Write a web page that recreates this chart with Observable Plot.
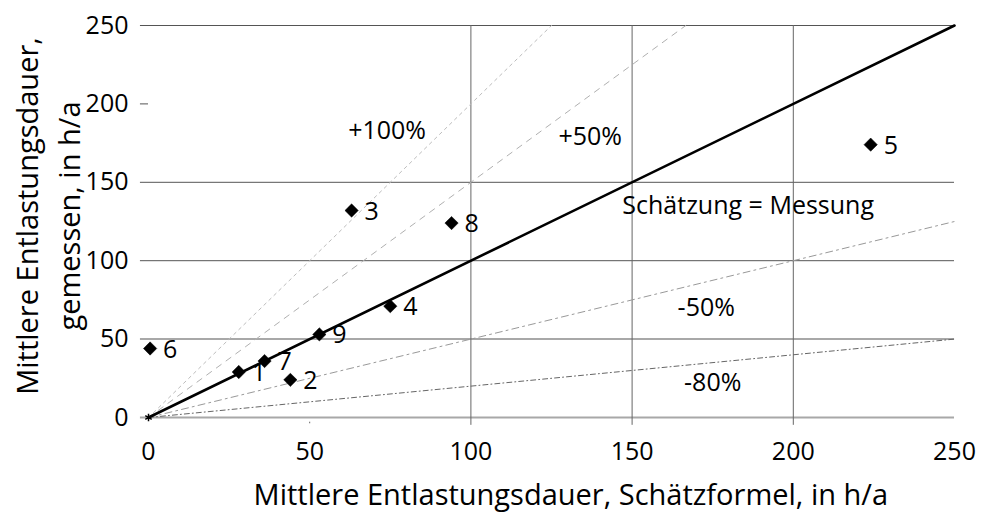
<!DOCTYPE html>
<html>
<head>
<meta charset="utf-8">
<script src="https://cdn.jsdelivr.net/npm/d3@7"></script>
<script src="https://cdn.jsdelivr.net/npm/@observablehq/plot@0.6"></script>
<style>
  body { margin: 0; background: #fff; }
  #chart { width: 982px; height: 515px; }
</style>
</head>
<body>
<div id="chart"></div>
<script>
// Data points: estimated (Schätzformel) vs measured (gemessen), h/a
const pointIds   = ["1", "2", "3", "4", "5", "6", "7", "8", "9"];
const estimated  = [28, 44, 63, 75, 224, 0.5, 36, 94, 53];
const measured   = [29, 24, 132, 71, 174, 44, 36, 124, 53];

// Reference lines: measured = factor * estimated
const refLabels  = ["+100%", "+50%", "Schätzung = Messung", "-50%", "-80%"];
const refFactors = [2, 1.5, 1, 0.5, 0.2];
const refLabelX  = [74, 137, 186, 173, 175];
const refLabelY  = [183, 179, 135, 70, 22];

const xTicks = [0, 50, 100, 150, 200, 250];
const yTicks = [0, 50, 100, 150, 200, 250];
const hGridDark  = [100, 150, 250];
const hGridLight = [0, 50];
const vGrid      = [100, 150, 200];

const xTitle = "Mittlere Entlastungsdauer, Schätzformel, in h/a";
const yTitle = "Mittlere Entlastungsdauer,\ngemessen, in h/a";

const points = pointIds.map((id, i) => ({id, x: estimated[i], y: measured[i]}));

function refLine(f) {
  const xEnd = Math.min(250, 250 / f);
  return [{x: 0, y: 0}, {x: xEnd, y: xEnd * f}];
}

const styles = {
  "2":   {stroke: "#bdbdbd", strokeWidth: 1, strokeDasharray: "3,4"},
  "1.5": {stroke: "#b0b0b0", strokeWidth: 1, strokeDasharray: "6,6"},
  "0.5": {stroke: "#999999", strokeWidth: 1, strokeDasharray: "7,4,2,4"},
  "0.2": {stroke: "#666666", strokeWidth: 1, strokeDasharray: "5,3,1,3"}
};

const font = "'Open Sans', 'DejaVu Sans', sans-serif";

const marks = [
  Plot.ruleY(hGridLight, {x1: -2.5, x2: 250, stroke: "#a8a8a8", strokeWidth: 2}),
  Plot.ruleY(hGridDark, {x1: -2.5, x2: 250, stroke: "#555", strokeWidth: 1}),
  Plot.ruleY([200], {x1: -2.5, x2: 0, stroke: "#555", strokeWidth: 1}),
  Plot.ruleX(vGrid, {y1: -5, y2: 250, stroke: "#666", strokeWidth: 1}),
  Plot.ruleX([50], {y1: -4, y2: -3, stroke: "#666", strokeWidth: 1}),
  ...refFactors.filter(f => f !== 1).map(f =>
    Plot.line(refLine(f), {x: "x", y: "y", ...styles[String(f)]})
  ),
  Plot.line(refLine(1), {x: "x", y: "y", stroke: "#000", strokeWidth: 2.6}),
  Plot.dot([{x: 0, y: 0}], {x: "x", y: "y", symbol: "asterisk", r: 3.5, stroke: "#000", strokeWidth: 1.5}),
  Plot.dot(points, {x: "x", y: "y", symbol: "diamond2", r: 6, fill: "#000", stroke: "#000", strokeWidth: 0.5}),
  Plot.text(points, {x: "x", y: "y", text: "id", textAnchor: "start", dx: 13, dy: 1, fontSize: 25, fill: "#000"}),
  Plot.text(refLabels.map((t, i) => ({t, x: refLabelX[i], y: refLabelY[i]})),
    {x: "x", y: "y", text: "t", fontSize: 25, fill: "#000"}),
  Plot.axisX(xTicks, {tickSize: 0, tickPadding: 25, fontSize: 25, label: null}),
  Plot.axisY(yTicks, {tickSize: 0, tickPadding: 20, fontSize: 25, label: null}),
  Plot.text([{t: xTitle, x: 131, y: -50}], {x: "x", y: "y", text: "t", fontSize: 29, fill: "#000"}),
  Plot.text([{t: yTitle, x: -31.8, y: 128.5}], {x: "x", y: "y", text: "t", rotate: -90, fontSize: 29, lineHeight: 1.45, fill: "#000"})
];

const chart = Plot.plot({
  width: 982,
  height: 515,
  marginLeft: 148,
  marginRight: 28,
  marginTop: 25,
  marginBottom: 98,
  x: {domain: [0, 250]},
  y: {domain: [0, 250]},
  style: {fontFamily: font, color: "#000", background: "#fff"},
  marks
});
document.getElementById("chart").appendChild(chart);
</script>
</body>
</html>
